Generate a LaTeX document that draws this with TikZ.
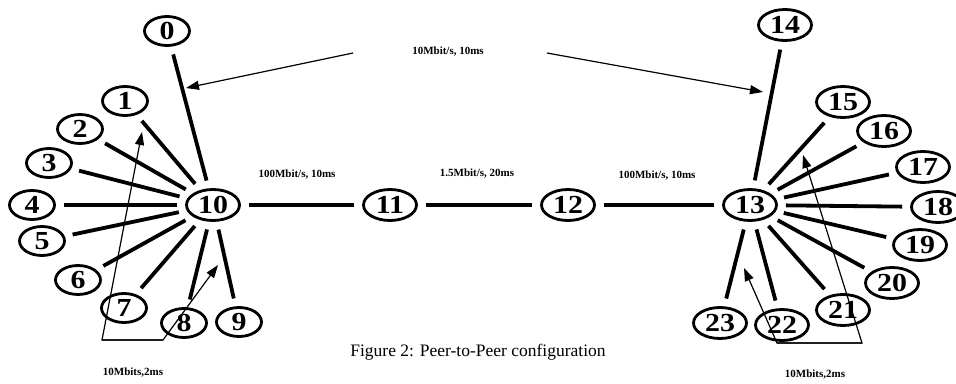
\documentclass[tikz,border=0pt]{standalone}
\usepackage{fontspec}
\setmainfont{Liberation Serif}
\newfontfamily\digitfont[FakeStretch=1.15]{Liberation Serif Bold}
\usetikzlibrary{shapes.geometric,arrows.meta}

\begin{document}
\begin{tikzpicture}[x=1pt,y=-1pt,
  peer/.style={ellipse, draw, line width=2.8pt, minimum width=45pt,
    minimum height=29pt, inner sep=0pt,
    font=\digitfont\fontsize{26}{26}\selectfont},
  widepeer/.style={peer, minimum width=53pt, minimum height=31pt},
  link/.style={line width=3.8pt, shorten <=8pt, shorten >=8pt},
  bw/.style={font=\bfseries\fontsize{11}{11}\selectfont},
  pointer/.style={line width=1.2pt, -{Triangle[length=13pt,width=9pt]}},
]
\useasboundingbox (0,0) rectangle (956,383);

% left star
\node[widepeer] (n10) at (213,205) {10};
\node[peer] (n0) at (167,31) {0};
\node[peer] (n1) at (125,101) {1};
\node[peer] (n2) at (80,129) {2};
\node[peer] (n3) at (49,163) {3};
\node[peer] (n4) at (32,205) {4};
\node[peer] (n5) at (42,241) {5};
\node[peer] (n6) at (78,280) {6};
\node[peer] (n7) at (124,308) {7};
\node[peer] (n8) at (184,323) {8};
\node[peer] (n9) at (239,322) {9};

% backbone routers
\node[widepeer] (n11) at (390,205) {11};
\node[widepeer] (n12) at (568,205) {12};

% right star
\node[widepeer] (n13) at (750,205) {13};
\node[widepeer] (n14) at (785,25) {14};
\node[widepeer] (n15) at (843,102) {15};
\node[widepeer] (n16) at (884,131) {16};
\node[widepeer] (n17) at (923,167) {17};
\node[widepeer] (n18) at (938,207) {18};
\node[widepeer] (n19) at (920,245) {19};
\node[widepeer] (n20) at (892,283) {20};
\node[widepeer] (n21) at (843,310) {21};
\node[widepeer] (n22) at (782,325) {22};
\node[widepeer] (n23) at (720,323) {23};

% links
\foreach \i in {0,...,9} \draw[link] (n10) -- (n\i);
\foreach \i in {14,...,23} \draw[link] (n13) -- (n\i);
\draw[link] (n10) -- (n11);
\draw[link] (n11) -- (n12);
\draw[link] (n12) -- (n13);

% link labels
\node[bw] (lblTop) at (448,52) {10Mbit/s, 10ms};
\node[bw] (lblA) at (297,175) {100Mbit/s, 10ms};
\node[bw] (lblB) at (477,174) {1.5Mbit/s, 20ms};
\node[bw] (lblC) at (657,176) {100Mbit/s, 10ms};
\node[bw] (lblL) at (133,373) {10Mbits,2ms};
\node[bw] (lblR) at (815,375) {10Mbits,2ms};
\node[font=\fontsize{17.5}{17.5}\selectfont] (caption) at (478,352)
  {Figure 2: Peer-to-Peer configuration};

% pointers from the top label
\coordinate (topL) at (353,53);
\coordinate (topR) at (547,53);
\coordinate (tipL) at (186,88);
\coordinate (tipR) at (763,92);
\draw[pointer] (topL) -- (tipL);
\draw[pointer] (topR) -- (tipR);

% left access-link bracket
\coordinate (lb1) at (102,340);
\coordinate (lb2) at (163,340);
\coordinate (lbTipA) at (142,132);
\coordinate (lbTipB) at (218,265);
\draw[pointer] (lb2) -- (lb1) -- (lbTipA);
\draw[pointer] (lb1) -- (lb2) -- (lbTipB);

% right access-link bracket
\coordinate (rb1) at (777,343);
\coordinate (rb2) at (862,343);
\coordinate (rbTipA) at (744,268);
\coordinate (rbTipB) at (803,155);
\draw[pointer] (rb2) -- (rb1) -- (rbTipA);
\draw[pointer] (rb1) -- (rb2) -- (rbTipB);
\end{tikzpicture}
\end{document}
